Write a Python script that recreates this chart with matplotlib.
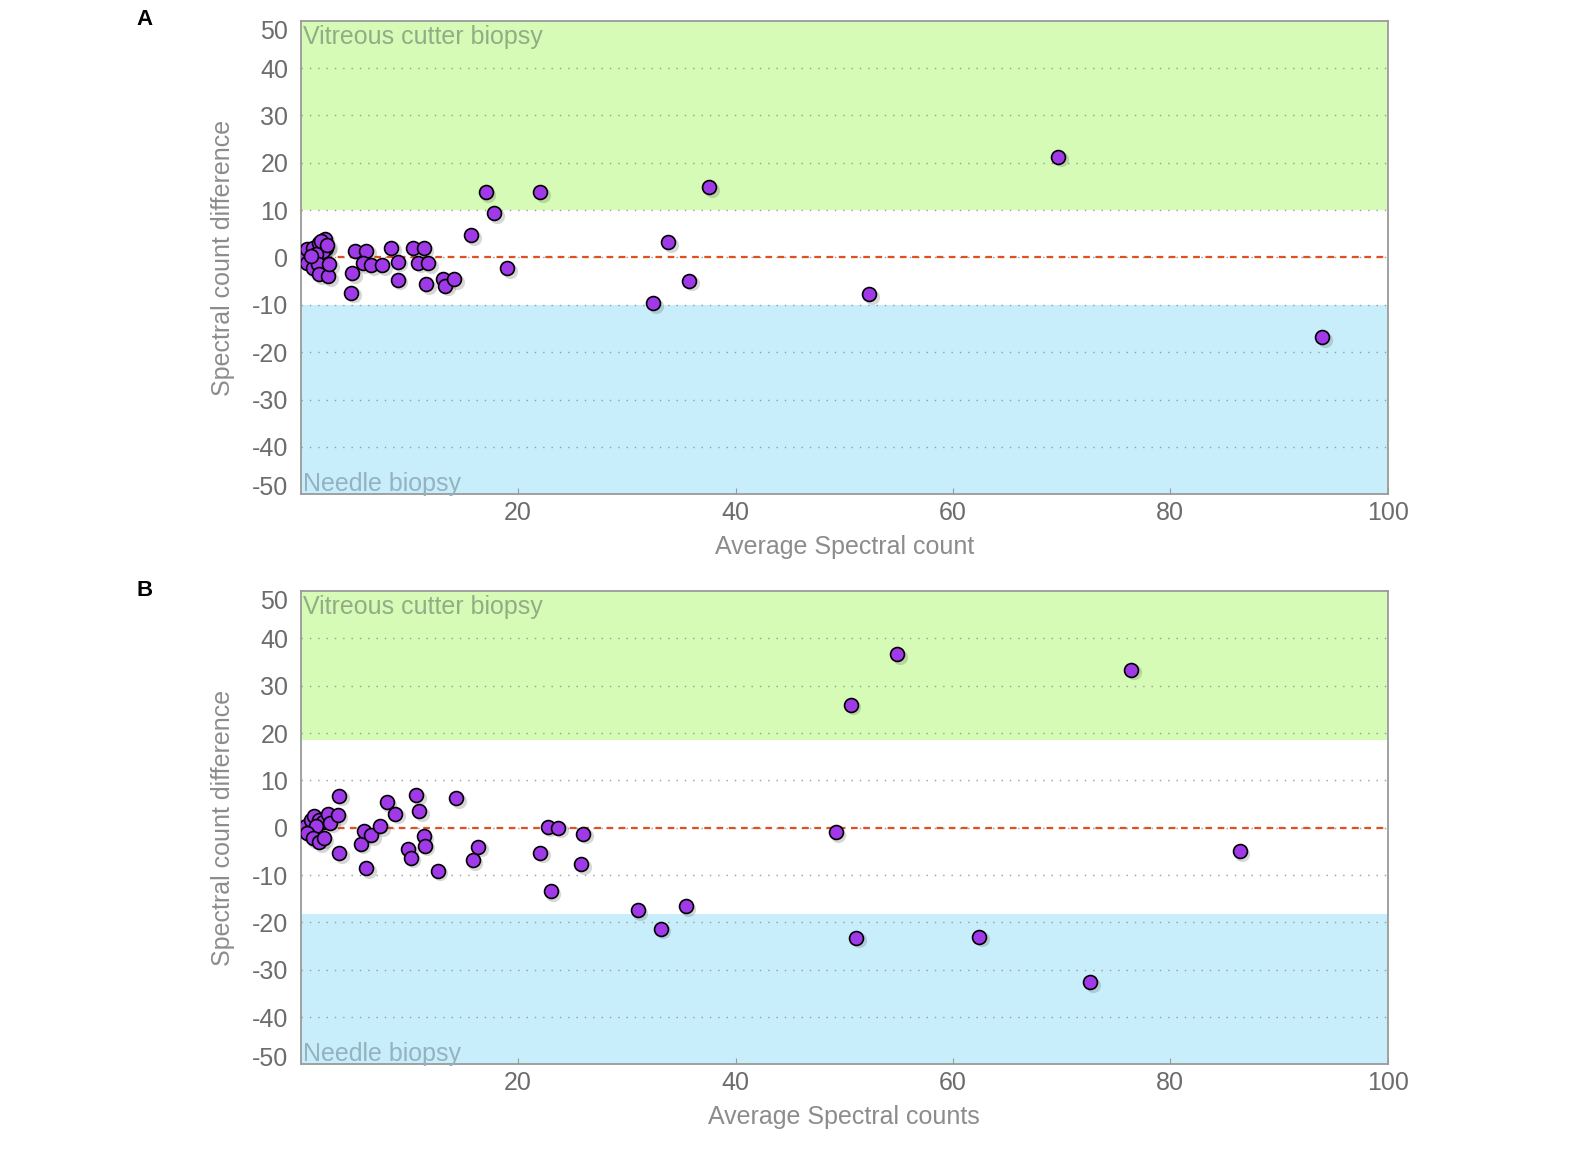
import matplotlib.pyplot as plt
import matplotlib.transforms as mtransforms
import numpy as np

plt.rcParams['font.family'] = ['Liberation Sans', 'DejaVu Sans']
plt.rcParams['axes.unicode_minus'] = False

# panel A: vitreous cutter vs needle, average vs difference
a_x = [0.25, 0.6, 1.1, 1.7, 2.2, 2.3, 2.0, 1.4, 0.55, 1.1, 1.6, 1.7, 2.5, 2.6, 0.9, 1.9, 2.4,
       4.6, 4.7, 5.0, 6.0, 5.7, 6.5, 7.5, 8.3, 8.9, 8.9, 10.3, 10.8, 11.3, 11.7, 11.5,
       13.1, 13.3, 14.1, 15.7, 17.0, 17.8, 19.0, 22.0, 32.4, 33.8, 35.7, 37.6, 52.3, 69.7, 94.0]
a_y = [0.5, 1.8, 2.1, 3.0, 4.0, 2.1, 1.4, 0.7, -1.1, -2.3, -1.4, -3.5, -3.9, -1.4, 0.4, 3.4, 2.6,
       -7.4, -3.3, 1.4, 1.4, -1.2, -1.6, -1.6, 2.1, -0.9, -4.7, 2.1, -1.1, 2.0, -1.2, -5.7,
       -4.5, -6.0, -4.6, 4.7, 13.8, 9.4, -2.3, 13.8, -9.6, 3.2, -4.9, 14.9, -7.7, 21.3, -16.8]

# panel B
b_x = [0.0, 0.5, 0.9, 1.2, 1.7, 2.0, 2.5, 1.4, 0.6, 1.1, 1.7, 2.1, 2.7, 3.4,
       3.5, 3.5, 5.5, 5.8, 6.0, 6.5, 7.3, 7.9, 8.7, 9.9, 10.1, 10.6, 10.9, 11.3, 11.4,
       12.6, 14.3, 15.8, 16.3, 22.0, 22.7, 23.0, 23.7, 25.8, 26.0, 31.0, 33.1, 35.4,
       49.2, 50.6, 51.1, 54.9, 62.4, 72.6, 76.4, 86.4]
b_y = [-0.2, 0.3, 1.6, 2.4, 1.7, 1.3, 3.0, 0.3, -1.1, -2.2, -3.1, -2.2, 1.1, 2.6,
       6.8, -5.4, -3.4, -0.8, -8.6, -1.6, 0.3, 5.4, 3.0, -4.5, -6.3, 6.9, 3.5, -1.8, -3.8,
       -9.1, 6.2, -6.8, -4.0, -5.3, 0.2, -13.4, 0.0, -7.7, -1.3, -17.4, -21.3, -16.6,
       -0.9, 26.0, -23.2, 36.6, -23.0, -32.6, 33.4, -4.9]

# band limits (upper, lower)
a_limits = (10, -10)
b_limits = (18.5, -18.2)

x_ticks = [20, 40, 60, 80, 100]
y_ticks = list(range(-50, 51, 10))

GREEN = '#d6fbb7'
BLUE = '#c9eefb'
GRID = '#9a9a9a'
TICK_COL = '#6c6c6c'
LABEL_COL = '#8c8c8c'


def draw_panel(fig, ax, xs, ys, limits, xlabel, letter):
    up, low = limits
    ax.set_xlim(0, 100)
    ax.set_ylim(-50, 50)
    ax.axhspan(up, 50, color=GREEN, zorder=0, lw=0)
    ax.axhspan(-50, low, color=BLUE, zorder=0, lw=0)
    for y in y_ticks[1:-1]:
        ax.axhline(y, color=GRID, lw=1, ls=(0, (1, 5)), zorder=1)
    ax.axhline(0, color='#e0501e', lw=1.6, ls=(0, (3, 2.5)), zorder=2)

    # soft shadow under the markers
    ax.scatter(np.array(xs) + 0.25, np.array(ys) - 0.55, s=120, color='#606060',
               alpha=0.25, lw=0, zorder=3)
    ax.scatter(xs, ys, s=100, color='#a03ae8', edgecolors='black', linewidths=1.2, zorder=4)

    ax.set_xticks(x_ticks)
    ax.set_yticks(y_ticks)
    ax.tick_params(axis='both', direction='in', length=4, color=GRID,
                   labelcolor=TICK_COL, labelsize=18)
    ax.tick_params(axis='y', length=0, pad=9)
    ax.tick_params(axis='x', pad=5)
    for s in ax.spines.values():
        s.set_color('#9a9a9a')
        s.set_linewidth(1.3)

    # end labels sit inside the frame, like the original
    labels = ax.get_yticklabels()
    labels[0].set_transform(labels[0].get_transform() +
                            mtransforms.ScaledTranslation(0, 6 / 72, fig.dpi_scale_trans))
    labels[-1].set_transform(labels[-1].get_transform() +
                             mtransforms.ScaledTranslation(0, -6 / 72, fig.dpi_scale_trans))

    ax.set_xlabel(xlabel, color=LABEL_COL, fontsize=18, labelpad=7)
    ax.set_ylabel('Spectral count difference', color=LABEL_COL, fontsize=18, labelpad=12)

    ax.text(0.002, 0.992, 'Vitreous cutter biopsy', transform=ax.transAxes, ha='left',
            va='top', fontsize=18, color='#92ad86')
    ax.text(0.002, -0.003, 'Needle biopsy', transform=ax.transAxes, ha='left',
            va='bottom', fontsize=18, color='#94b2bf')
    ax.text(-0.151, 1.024, letter, transform=ax.transAxes, ha='left', va='top',
            fontsize=16, fontweight='bold', color='black')


fig = plt.figure(figsize=(15.75, 11.52), dpi=100)
ax_a = fig.add_axes([0.191, 0.571, 0.690, 0.411])
ax_b = fig.add_axes([0.191, 0.076, 0.690, 0.411])

draw_panel(fig, ax_a, a_x, a_y, a_limits, 'Average Spectral count', 'A')
draw_panel(fig, ax_b, b_x, b_y, b_limits, 'Average Spectral counts', 'B')

fig.savefig('out.png', dpi=100)
